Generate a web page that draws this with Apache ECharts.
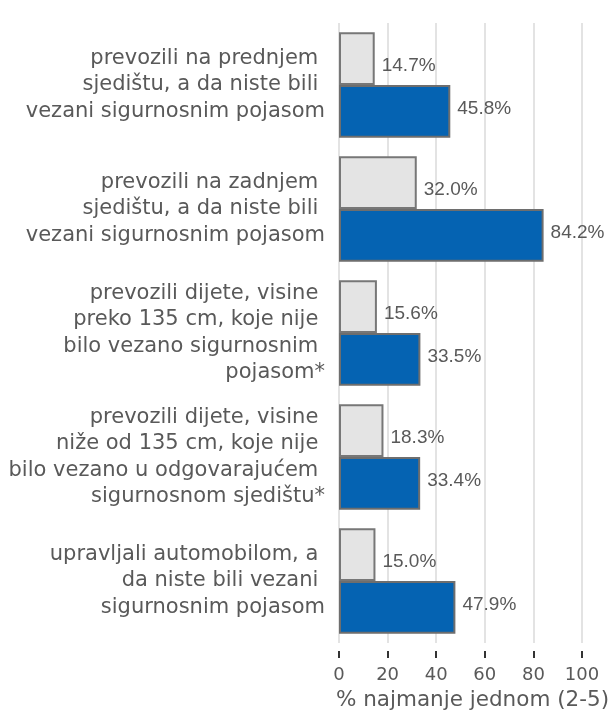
<!DOCTYPE html>
<html>
<head>
<meta charset="utf-8">
<script src="https://cdn.jsdelivr.net/npm/echarts@6/dist/echarts.min.js"></script>
<style>
  html, body { margin: 0; padding: 0; background: #fff; }
  #chart { width: 613px; height: 716px; }
</style>
</head>
<body>
<div id="chart"></div>
<script>
// kategorije (odozgo prema dolje); prelomljeni redovi zadržavaju razmak na kraju
var categories = [
    "prevozili na prednjem \nsjedištu, a da niste bili \nvezani sigurnosnim pojasom",
    "prevozili na zadnjem \nsjedištu, a da niste bili \nvezani sigurnosnim pojasom",
    "prevozili dijete, visine \npreko 135 cm, koje nije \nbilo vezano sigurnosnim \npojasom*",
    "prevozili dijete, visine \nniže od 135 cm, koje nije \nbilo vezano u odgovarajućem \nsigurnosnom sjedištu*",
    "upravljali automobilom, a \nda niste bili vezani \nsigurnosnim pojasom"
];
var greyValues = [14.7, 32.0, 15.6, 18.3, 15.0];
var blueValues = [45.8, 84.2, 33.5, 33.4, 47.9];
var xTicks = [0, 20, 40, 60, 80, 100];

var textGrey = '#595959';
var chart = echarts.init(document.getElementById('chart'));

function pct(p) {
    return p.value.toFixed(1) + '%';
}

var option = {
    animation: false,
    grid: {
        left: 339,
        right: 31,
        top: 23,
        bottom: 69
    },
    xAxis: {
        type: 'value',
        min: xTicks[0],
        max: xTicks[xTicks.length - 1],
        interval: 20,
        offset: 8,
        axisLine: { show: false },
        axisTick: { show: true, length: 7, lineStyle: { color: '#333', width: 2 } },
        axisLabel: {
            color: textGrey,
            fontFamily: 'DejaVu Sans',
            fontSize: 18,
            margin: 15
        },
        splitLine: { show: true, lineStyle: { color: '#e3e3e3', width: 2 } },
        name: '% najmanje jednom (2-5)',
        nameLocation: 'middle',
        nameGap: 38,
        nameTextStyle: {
            color: textGrey,
            fontFamily: 'DejaVu Sans',
            fontSize: 21.5,
            padding: [0, 0, 0, 24]
        }
    },
    yAxis: {
        type: 'category',
        data: categories,
        inverse: true,
        axisLine: { show: false },
        axisTick: { show: false },
        axisLabel: {
            color: textGrey,
            fontFamily: 'DejaVu Sans',
            fontSize: 21,
            lineHeight: 26.5,
            align: 'right',
            padding: [4, 0, 0, 0],
            margin: 14
        }
    },
    series: [
        {
            name: 'siva',
            type: 'bar',
            data: greyValues,
            barGap: '0%',
            barCategoryGap: '15%',
            itemStyle: { color: '#e4e4e4', borderColor: '#777777', borderWidth: 2 },
            label: {
                show: true,
                position: 'right',
                distance: 7,
                offset: [0, 7.5],
                formatter: pct,
                color: textGrey,
                fontFamily: 'Liberation Sans Narrow, Liberation Sans',
                fontSize: 19
            }
        },
        {
            name: 'plava',
            type: 'bar',
            data: blueValues,
            barGap: '0%',
            barCategoryGap: '15%',
            itemStyle: { color: '#0563b2', borderColor: '#6e6e6e', borderWidth: 2 },
            label: {
                show: true,
                position: 'right',
                distance: 7,
                offset: [0, -2.5],
                formatter: pct,
                color: textGrey,
                fontFamily: 'Liberation Sans Narrow, Liberation Sans',
                fontSize: 19
            }
        }
    ]
};

chart.setOption(option);
</script>
</body>
</html>
